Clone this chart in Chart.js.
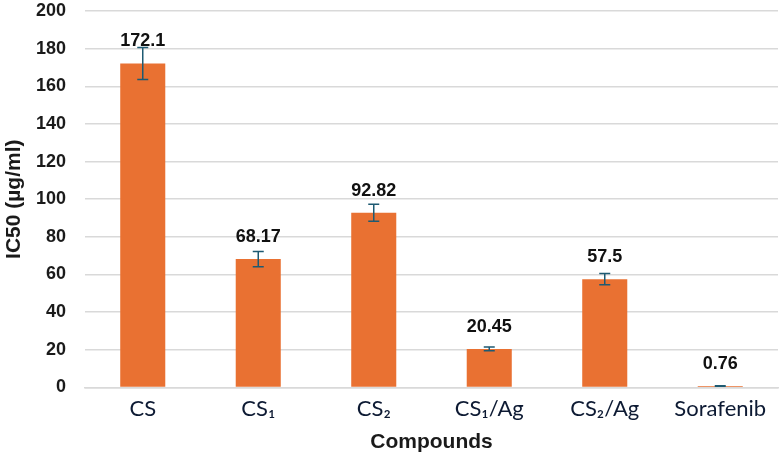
<!DOCTYPE html>
<html>
<head>
<meta charset="utf-8">
<script src="https://cdn.jsdelivr.net/npm/chart.js@4"></script>
<style>
  html, body { margin: 0; padding: 0; background: #fff; }
  #wrap { width: 779px; height: 456px; }
</style>
</head>
<body>
<div id="wrap"><canvas id="ic50Chart" width="779" height="456"></canvas></div>
<script>
// IC50 values per compound, with error bar half-widths
const compounds = ['CS', 'CS\u2081', 'CS\u2082', 'CS\u2081/Ag', 'CS\u2082/Ag', 'Sorafenib'];
const ic50 = [172.1, 68.17, 92.82, 20.45, 57.5, 0.76];
const ic50Err = [8.5, 4, 4.5, 1, 3, 0.15];
const yTicks = [0, 20, 40, 60, 80, 100, 120, 140, 160, 180, 200];

const barColor = '#E97132';
const errColor = '#1E5A72';
const boldFont = '"Liberation Sans", Arial, sans-serif';

// draws the error bars and value labels on top of the bars
const errorBarsPlugin = {
    id: 'errorBars',
    afterDatasetsDraw(chart) {
        const ctx = chart.ctx;
        const yScale = chart.scales.y;
        const meta = chart.getDatasetMeta(0);
        ctx.save();
        meta.data.forEach((bar, i) => {
            const x = bar.x;
            const top = yScale.getPixelForValue(ic50[i] + ic50Err[i]);
            const bottom = yScale.getPixelForValue(ic50[i] - ic50Err[i]);
            ctx.strokeStyle = errColor;
            ctx.lineWidth = 1.5;
            ctx.beginPath();
            ctx.moveTo(x, top); ctx.lineTo(x, bottom);
            ctx.moveTo(x - 5.5, top); ctx.lineTo(x + 5.5, top);
            ctx.moveTo(x - 5.5, bottom); ctx.lineTo(x + 5.5, bottom);
            ctx.stroke();
        });
        meta.data.forEach((bar, i) => {
            ctx.fillStyle = '#111';
            ctx.font = 'bold 18px ' + boldFont;
            ctx.textAlign = 'center';
            ctx.textBaseline = 'middle';
            ctx.fillText(String(ic50[i]), bar.x, bar.y - 22);
        });
        ctx.restore();
    }
};

new Chart(document.getElementById('ic50Chart'), {
    type: 'bar',
    data: {
        labels: compounds,
        datasets: [{
            data: ic50,
            backgroundColor: barColor,
            categoryPercentage: 1.0,
            barPercentage: 0.39
        }]
    },
    options: {
        responsive: false,
        animation: false,
        layout: { autoPadding: false, padding: { top: 0, right: 1, bottom: 1, left: 2 } },
        plugins: {
            legend: { display: false },
            tooltip: { enabled: false }
        },
        scales: {
            x: {
                grid: { display: false, drawTicks: false },
                border: { color: '#d9d9d9', width: 1.5 },
                ticks: {
                    color: '#0d1a33',
                    font: { family: 'Lato, "Open Sans", sans-serif', size: 22 },
                    padding: 8
                },
                title: {
                    display: true,
                    text: 'Compounds',
                    color: '#1a1a1a',
                    font: { family: boldFont, size: 21, weight: 'bold' },
                    padding: { top: 0, bottom: 0 }
                }
            },
            y: {
                min: 0,
                max: 200,
                afterBuildTicks(axis) {
                    axis.ticks = yTicks.map(v => ({ value: v }));
                },
                // pin the axis box so the plot starts where the reference does
                afterFit(axis) {
                    axis.width = 83;
                    axis.paddingTop = 11;
                    axis.paddingBottom = 0;
                },
                grid: { color: '#d9d9d9', lineWidth: 1.5, drawTicks: false },
                border: { display: false },
                ticks: {
                    color: '#1a1a1a',
                    font: { family: boldFont, size: 18, weight: 'bold' },
                    padding: 19
                },
                title: {
                    display: true,
                    text: 'IC50 (\u00b5g/ml)',
                    color: '#1a1a1a',
                    font: { family: boldFont, size: 21, weight: 'bold', lineHeight: 1.2 },
                    padding: { top: 0, bottom: 0 }
                }
            }
        }
    },
    plugins: [errorBarsPlugin]
});
</script>
</body>
</html>
